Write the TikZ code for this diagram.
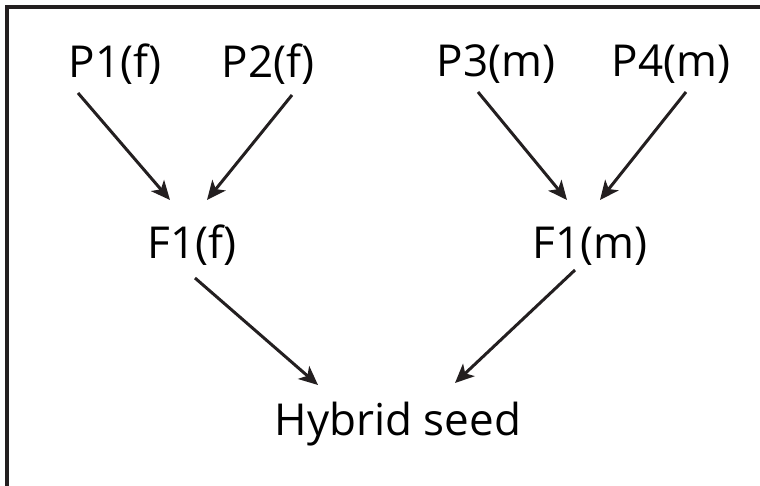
\documentclass[tikz,border=0pt]{standalone}
\usepackage{fontspec}
\setmainfont{Open Sans}
\usetikzlibrary{arrows.meta}
\definecolor{ink}{HTML}{231F20}
\tikzset{
  lbl/.style={anchor=base, inner sep=0pt, font=\fontsize{44}{50}\selectfont, text=black},
  arr/.style={draw=ink, line width=3pt, -{Stealth[length=19pt,width=17pt,inset=5pt]}},
  frame/.style={draw=ink, line width=4pt}
}
\begin{document}
\begin{tikzpicture}[x=1pt,y=-1pt]
\useasboundingbox (0,0) rectangle (760,486);
\draw[frame] (7,486) -- (7,7) -- (760,7);
\node[lbl] (P1) at (115,78) {P1(f)};
\node[lbl] (P2) at (268,78) {P2(f)};
\node[lbl] (P3) at (496,77) {P3(m)};
\node[lbl] (P4) at (671,77) {P4(m)};
\node[lbl] (F1f) at (192,259) {F1(f)};
\node[lbl] (F1m) at (590,259) {F1(m)};
\node[lbl] (H) at (398,435) {Hybrid seed};
\draw[arr] ([shift={(-37,15)}]P1.base) -- ([shift={(-22,-59)}]F1f.base);
\draw[arr] ([shift={(24,17)}]P2.base) -- ([shift={(15,-59)}]F1f.base);
\draw[arr] ([shift={(-18,15)}]P3.base) -- ([shift={(-23,-59)}]F1m.base);
\draw[arr] ([shift={(15,15)}]P4.base) -- ([shift={(10,-59)}]F1m.base);
\draw[arr] ([shift={(3,19)}]F1f.base) -- ([shift={(-80,-50)}]H.base);
\draw[arr] ([shift={(-15,11)}]F1m.base) -- ([shift={(57,-52)}]H.base);
\end{tikzpicture}
\end{document}
